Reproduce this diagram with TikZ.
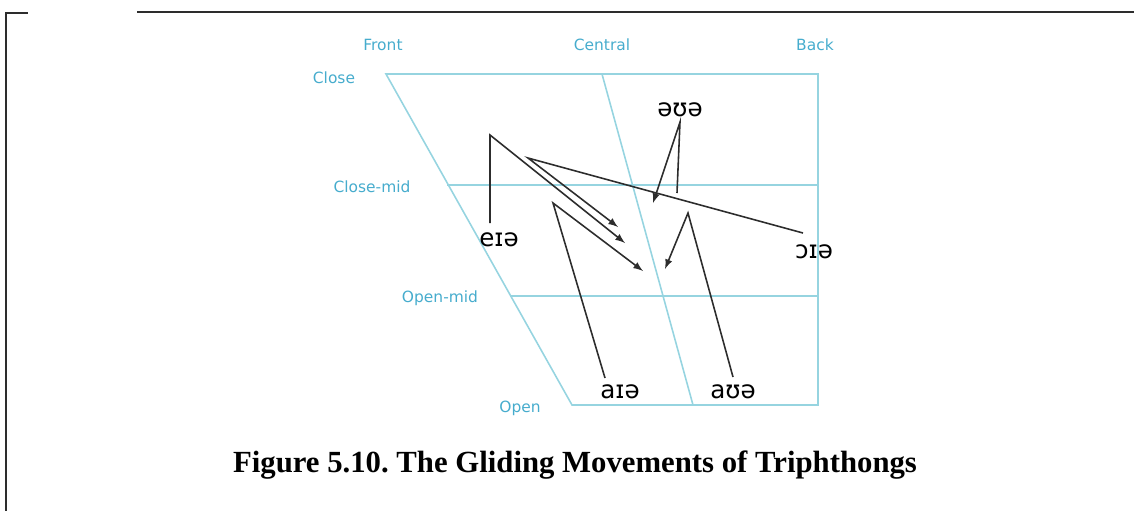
\documentclass[tikz,border=0pt]{standalone}
\usepackage{fontspec}
\setmainfont{Liberation Serif}
\newfontfamily\chartfont{DejaVu Sans}
\usetikzlibrary{arrows}
\usetikzlibrary{math}
\definecolor{chartline}{RGB}{150,212,224}
\definecolor{chartlabel}{RGB}{70,172,205}
\definecolor{glide}{RGB}{45,45,45}

\tikzset{
  axislabel/.style={text=chartlabel,font=\chartfont\fontsize{8.8}{10}\selectfont,inner sep=0pt},
  vowel/.style={text=black,font=\chartfont\fontsize{14}{16}\selectfont,inner sep=0pt},
  glideline/.style={glide,line width=0.9pt,-latex},
}

\begin{document}
\frenchspacing
\begin{tikzpicture}[x=0.02cm,y=-0.02cm]
\tikzmath{
\yclose=74;
\ycmid=185;
\yomid=296;
\yopen=405;
\xback=818;
}
\useasboundingbox (0,0) rectangle (1134,511);

% frame
\draw[glide,line width=1.1pt] (6,511) -- (6,13) -- (28,13);
\draw[glide,line width=1.1pt] (137,12) -- (1134,12);

% vowel chart
\draw[chartline,line width=0.9pt] (386,\yclose) -- (\xback,\yclose) -- (\xback,\yopen) -- (572,\yopen) -- cycle;
\draw[chartline,line width=0.9pt] (447,\ycmid) -- (\xback,\ycmid);
\draw[chartline,line width=0.9pt] (510,\yomid) -- (\xback,\yomid);
\draw[chartline,line width=0.9pt] (602,\yclose) -- (693,\yopen);

\node[axislabel] (front) at (383,45) {Front};
\node[axislabel] (central) at (602,45) {Central};
\node[axislabel] (back) at (815,45) {Back};
\node[axislabel] (close) at (334,78) {Close};
\node[axislabel] (closemid) at (372,187) {Close-mid};
\node[axislabel] (openmid) at (440,298) {Open-mid};
\node[axislabel] (open) at (520,408) {Open};

% triphthong labels
\node[vowel] (eie) at (499,240) {eɪə};
\node[vowel] (oie) at (814,252) {ɔɪə};
\node[vowel] (aie) at (620,392) {aɪə};
\node[vowel] (aue) at (733,392) {aʊə};
\node[vowel] (eue) at (680,110) {əʊə};

% glide points
\coordinate (eie-a) at (490,223);
\coordinate (eie-b) at (490,135);
\coordinate (eie-c) at (625,243);
\coordinate (oie-a) at (803,233);
\coordinate (oie-b) at (528,158);
\coordinate (oie-c) at (618,227);
\coordinate (aie-a) at (605,378);
\coordinate (aie-b) at (553,203);
\coordinate (aie-c) at (643,271);
\coordinate (aue-a) at (733,377);
\coordinate (aue-b) at (688,213);
\coordinate (aue-c) at (665,269);
\coordinate (eue-a) at (677,193);
\coordinate (eue-b) at (680,122);
\coordinate (eue-c) at (653,203);

\draw[glideline] (eie-a) -- (eie-b) -- (eie-c);
\draw[glideline] (oie-a) -- (oie-b) -- (oie-c);
\draw[glideline] (aie-a) -- (aie-b) -- (aie-c);
\draw[glideline] (aue-a) -- (aue-b) -- (aue-c);
\draw[glideline] (eue-a) -- (eue-b) -- (eue-c);

% caption
\node[font=\bfseries\fontsize{17.5}{20}\selectfont,inner sep=0pt] (caption) at (575,465) {Figure 5.10. The Gliding Movements of Triphthongs};
\end{tikzpicture}
\end{document}
